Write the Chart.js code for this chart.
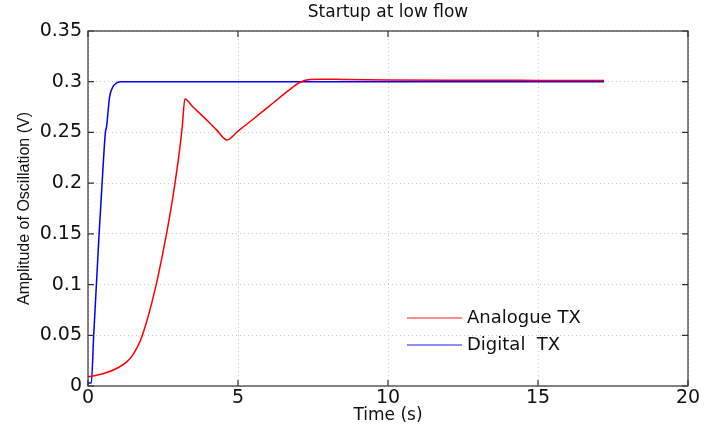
<!DOCTYPE html>
<html>
<head>
<meta charset="utf-8">
<script src="https://cdn.jsdelivr.net/npm/chart.js@4/dist/chart.umd.min.js"></script>
<style>
  html, body { margin: 0; padding: 0; background: #fff; }
  #wrap { width: 717px; height: 428px; }
</style>
</head>
<body>
<div id="wrap"><canvas id="grafico" width="717" height="428"></canvas></div>
<script>
// datos
const analogTime = [0, 0.5, 1, 1.3, 1.5, 1.75, 2, 2.25, 2.5, 2.75, 2.9, 3.05, 3.14, 3.23,
  3.5, 4, 4.3, 4.63, 5, 5.5, 6, 6.5, 6.8, 7.07, 7.4, 7.8, 8.5, 10, 12, 15, 17.2];
const analogValues = [0.009, 0.012, 0.018, 0.024, 0.031, 0.045, 0.068, 0.097, 0.132, 0.172, 0.2, 0.232, 0.255, 0.283,
  0.275, 0.261, 0.252, 0.2426, 0.2513, 0.263, 0.275, 0.287, 0.294, 0.2995, 0.3023, 0.3025, 0.3022, 0.3018, 0.3015, 0.3013, 0.3012];

const digitalTime = [0, 0.11, 0.19, 0.28, 0.37, 0.47, 0.58, 0.62, 0.72, 0.83, 0.92, 1.0, 1.1, 2, 5, 10, 15, 17.2];
const digitalValues = [0.003, 0.003, 0.05, 0.1, 0.15, 0.2, 0.25, 0.256, 0.285, 0.295, 0.298, 0.2995, 0.3, 0.3, 0.3, 0.3, 0.3, 0.3];

const xTicks = [0, 5, 10, 15, 20];
const yTicks = [0, 0.05, 0.1, 0.15, 0.2, 0.25, 0.3, 0.35];

const toPoints = (xs, ys) => xs.map((x, i) => ({ x: x, y: ys[i] }));

const wide = '"DejaVu Sans", Verdana, sans-serif';
const plain = '"Liberation Sans", Arial, Helvetica, sans-serif';

// caja del eje, marcas hacia dentro, título y leyenda como en MATLAB
const boxPlugin = {
  id: 'boxPlugin',
  afterDraw(chart) {
    const { ctx, chartArea: a, scales } = chart;
    ctx.save();
    ctx.strokeStyle = '#333';
    ctx.lineWidth = 1.2;
    ctx.strokeRect(a.left, a.top, a.right - a.left, a.bottom - a.top);
    ctx.beginPath();
    xTicks.forEach(v => {
      const px = scales.x.getPixelForValue(v);
      ctx.moveTo(px, a.bottom); ctx.lineTo(px, a.bottom - 6);
      ctx.moveTo(px, a.top); ctx.lineTo(px, a.top + 6);
    });
    yTicks.forEach(v => {
      const py = scales.y.getPixelForValue(v);
      ctx.moveTo(a.left, py); ctx.lineTo(a.left + 6, py);
      ctx.moveTo(a.right, py); ctx.lineTo(a.right - 6, py);
    });
    ctx.stroke();

    // título centrado sobre los ejes
    ctx.fillStyle = '#111';
    ctx.font = '17px ' + wide;
    ctx.textAlign = 'center';
    ctx.textBaseline = 'middle';
    ctx.fillText('Startup at low flow', (a.left + a.right) / 2, 13);

    // leyenda
    const lx = 407, ly = 318;
    ctx.font = '18px ' + wide;
    ctx.textAlign = 'left';
    chart.data.datasets.forEach((ds, i) => {
      const y = ly + i * 27;
      ctx.strokeStyle = ds.borderColor;
      ctx.globalAlpha = 0.6;
      ctx.lineWidth = 1.5;
      ctx.beginPath();
      ctx.moveTo(lx, y); ctx.lineTo(lx + 55, y);
      ctx.stroke();
      ctx.globalAlpha = 1;
      ctx.fillStyle = '#111';
      ctx.fillText(ds.label, lx + 60, y);
    });
    ctx.restore();
  }
};

const ctx = document.getElementById('grafico').getContext('2d');
new Chart(ctx, {
  type: 'line',
  data: {
    datasets: [
      {
        label: 'Analogue TX',
        data: toPoints(analogTime, analogValues),
        borderColor: '#ff0000',
        borderWidth: 1.5,
        pointRadius: 0,
        cubicInterpolationMode: 'monotone',
      },
      {
        label: 'Digital  TX',
        data: toPoints(digitalTime, digitalValues),
        borderColor: '#0000ff',
        borderWidth: 1.5,
        pointRadius: 0,
        cubicInterpolationMode: 'monotone',
      },
    ],
  },
  options: {
    responsive: false,
    animation: false,
    layout: { padding: { top: 31, right: 29, bottom: 0, left: 0 } },
    plugins: {
      legend: { display: false },
      tooltip: { enabled: false },
      title: { display: false },
    },
    scales: {
      x: {
        type: 'linear',
        min: 0,
        max: 20,
        afterBuildTicks: s => { s.ticks = xTicks.map(v => ({ value: v })); },
        ticks: { color: '#111', font: { family: wide, size: 19 }, padding: 1, maxRotation: 0 },
        grid: { color: '#c8c8c8', drawTicks: false, lineWidth: 1 },
        border: { display: false, dash: [1, 3] },
        title: {
          display: true,
          text: 'Time (s)',
          color: '#111',
          font: { family: wide, size: 17 },
          padding: { top: 0, bottom: 2 },
        },
        afterFit: s => { s.height = 42; },
      },
      y: {
        type: 'linear',
        min: 0,
        max: 0.35,
        afterBuildTicks: s => { s.ticks = yTicks.map(v => ({ value: v })); },
        ticks: {
          color: '#111',
          font: { family: wide, size: 19 },
          padding: 6,
          callback: v => String(parseFloat(Number(v).toFixed(2))),
        },
        grid: { color: '#c8c8c8', drawTicks: false, lineWidth: 1 },
        border: { display: false, dash: [1, 3] },
        title: {
          display: true,
          text: 'Amplitude of Oscillation (V)',
          color: '#111',
          font: { family: plain, size: 16 },
          padding: { top: 15, bottom: 0 },
        },
        afterFit: s => { s.width = 88; },
      },
    },
  },
  plugins: [boxPlugin],
});
</script>
</body>
</html>
